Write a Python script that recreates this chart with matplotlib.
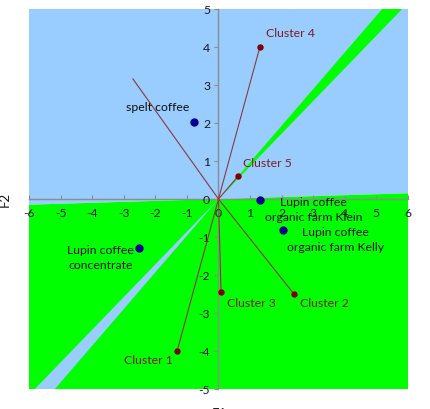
import matplotlib
matplotlib.use("Agg")
import matplotlib.pyplot as plt

# ---- data ----
cluster_names = ["Cluster 1", "Cluster 2", "Cluster 3", "Cluster 4", "Cluster 5"]
cluster_x = [-1.31, 2.39, 0.08, 1.31, 0.62]
cluster_y = [-4.0, -2.5, -2.45, 4.0, 0.6]

extra_vec_x = [-2.71]
extra_vec_y = [3.16]

product_names = ["spelt coffee", "Lupin coffee\nconcentrate",
                 "Lupin coffee\norganic farm Klein", "Lupin coffee\norganic farm Kelly"]
product_x = [-0.78, -2.52, 1.31, 2.04]
product_y = [2.03, -1.29, -0.03, -0.82]

x_ticks = [-6, -5, -4, -3, -2, -1, 0, 1, 2, 3, 4, 5, 6]
y_ticks = [-5, -4, -3, -2, -1, 0, 1, 2, 3, 4, 5]

# region boundaries (slopes of lines through the origin)
split_slope = 0.025
wedge_slope_lo = 0.86
wedge_slope_hi = 0.965

XMIN, XMAX, YMIN, YMAX = -6, 6, -5, 5

BLUE = "#99CCFF"
GREEN = "#00FF00"
LINE_C = "#8B3A3A"
MARK_C = "#7F0000"
LABEL_C = "#7F1F1F"
PROD_C = "#000090"
FS = 8.8

plt.rcParams["font.family"] = ["Lato", "DejaVu Sans"]

fig = plt.figure(figsize=(4.3, 4.1), dpi=100)
ax = fig.add_axes([29 / 430, 1 - 390 / 410, 379 / 430, 380 / 410])
ax.set_xlim(XMIN, XMAX)
ax.set_ylim(YMIN, YMAX)

# background regions
ax.fill([XMIN, XMAX, XMAX, XMIN], [XMIN * split_slope, XMAX * split_slope, YMAX, YMAX],
        color=BLUE, lw=0, zorder=0)
ax.fill([XMIN, XMAX, XMAX, XMIN], [XMIN * split_slope, XMAX * split_slope, YMIN, YMIN],
        color=GREEN, lw=0, zorder=0)
ax.fill([0, YMAX / wedge_slope_hi, YMAX / wedge_slope_lo], [0, YMAX, YMAX],
        color=GREEN, lw=0, zorder=0.5)
ax.fill([0, YMIN / wedge_slope_hi, YMIN / wedge_slope_lo], [0, YMIN, YMIN],
        color=BLUE, lw=0, zorder=0.5)

# spines at origin
for s in ["top", "right"]:
    ax.spines[s].set_visible(False)
for s in ["left", "bottom"]:
    ax.spines[s].set_position(("data", 0))
    ax.spines[s].set_color("#8C8C8C")
    ax.spines[s].set_linewidth(1.0)
    ax.spines[s].set_zorder(1)

ax.set_xticks(x_ticks)
ax.set_yticks(y_ticks)
ax.set_xticklabels([str(t) for t in x_ticks])
ax.set_yticklabels([str(t) for t in y_ticks])
ax.tick_params(axis="x", direction="in", length=3, width=0.8, color="#8C8C8C",
               labelsize=FS, pad=6, labelcolor="#1a1a1a")
ax.tick_params(axis="y", direction="out", length=3, width=0.8, color="#8C8C8C",
               labelsize=FS, pad=3, labelcolor="#1a1a1a")

# vectors
for x, y in zip(cluster_x + extra_vec_x, cluster_y + extra_vec_y):
    ax.plot([0, x], [0, y], color=LINE_C, lw=0.8, zorder=2)
ax.plot(cluster_x, cluster_y, "o", color=MARK_C, ms=3.6, zorder=3, mec=MARK_C)

cl_offsets = [(-4, -9, "right"), (6, -9, "left"), (6, -10, "left"),
              (6, 14, "left"), (5, 14, "left")]
for name, x, y, (dx, dy, ha) in zip(cluster_names, cluster_x, cluster_y, cl_offsets):
    ax.annotate(name, (x, y), xytext=(dx, dy), textcoords="offset pixels",
                ha=ha, va="center", color=LABEL_C, fontsize=FS, zorder=4)

# products
ax.plot(product_x, product_y, "o", color=PROD_C, ms=5, zorder=3)
pr_offsets = [(-4, 15, "right"), (-5, -9, "right"), (54, -9, "center"), (53, -9, "center")]
for name, x, y, (dx, dy, ha) in zip(product_names, product_x, product_y, pr_offsets):
    ax.annotate(name, (x, y), xytext=(dx, dy), textcoords="offset pixels",
                ha=ha, va="center", multialignment="center", color="#111111",
                fontsize=FS, linespacing=1.5, zorder=4)

fig.text(5 / 430, 1 - 199 / 410, "F2", rotation=90, ha="center", va="center",
         fontsize=9.5, color="#1a1a1a")
fig.text(219 / 430, 1 - 414 / 410, "F1", ha="center", va="center",
         fontsize=9.5, color="#1a1a1a")

fig.savefig("out.png", dpi=100)
